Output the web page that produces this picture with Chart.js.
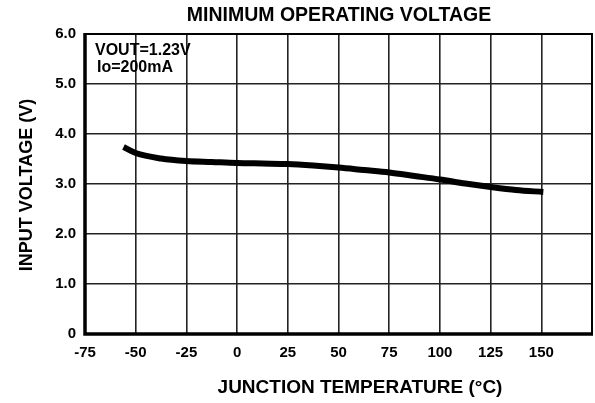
<!DOCTYPE html>
<html>
<head>
<meta charset="utf-8">
<script src="https://cdn.jsdelivr.net/npm/chart.js@4"></script>
<style>
  html, body { margin: 0; padding: 0; background: #fff; }
</style>
</head>
<body>
<canvas id="chart" width="595" height="403"></canvas>
<script>
// junction temperature (°C) and minimum input voltage (V)
const temps = [-56, -50, -37.5, -25, -12.5, 0, 12.5, 25, 37.5, 50, 62.5, 75, 87.5, 100, 112.5, 125, 137.5, 151];
const volts = [3.74, 3.62, 3.51, 3.46, 3.44, 3.42, 3.41, 3.40, 3.37, 3.33, 3.28, 3.23, 3.16, 3.09, 3.01, 2.94, 2.88, 2.84];

const xTicks = [-75, -50, -25, 0, 25, 50, 75, 100, 125, 150];
const yTickLabels = ["0", "1.0", "2.0", "3.0", "4.0", "5.0", "6.0"];

const titleText = "MINIMUM OPERATING VOLTAGE";
const xTitle = "JUNCTION TEMPERATURE (°C)";
const yTitle = "INPUT VOLTAGE (V)";
const noteLines = ["VOUT=1.23V", "Io=200mA"];

const FONT = "'Liberation Sans', Arial, sans-serif";

// titles, notes and the outer frame
const textPlugin = {
  id: "texts",
  afterDraw(chart) {
    const { ctx, chartArea: a } = chart;
    ctx.save();
    ctx.fillStyle = "#000";
    ctx.textBaseline = "middle";

    ctx.font = "bold 19.5px " + FONT;
    ctx.textAlign = "center";
    ctx.fillText(titleText, 339, 16);

    ctx.font = "bold 19px " + FONT;
    ctx.fillText(xTitle, 360, 388);

    ctx.font = "bold 18px " + FONT;
    ctx.save();
    ctx.translate(27, 185);
    ctx.rotate(-Math.PI / 2);
    ctx.fillText(yTitle, 0, 0);
    ctx.restore();

    ctx.font = "bold 16px " + FONT;
    ctx.textAlign = "left";
    ctx.fillText(noteLines[0], 95, 51);
    ctx.fillText(noteLines[1], 97, 68);

    // frame: heavier on left/bottom
    ctx.strokeStyle = "#000";
    ctx.lineWidth = 2;
    ctx.strokeRect(a.left, a.top, a.right - a.left, a.bottom - a.top);
    ctx.lineWidth = 3.5;
    ctx.beginPath();
    ctx.moveTo(a.left, a.top - 1);
    ctx.lineTo(a.left, a.bottom);
    ctx.lineTo(a.right + 1, a.bottom);
    ctx.stroke();
    ctx.restore();
  }
};

new Chart(document.getElementById("chart"), {
  type: "line",
  data: {
    datasets: [{
      data: temps.map((t, i) => ({ x: t, y: volts[i] })),
      borderColor: "#000",
      borderWidth: 6,
      pointRadius: 0,
      tension: 0.4,
      cubicInterpolationMode: "monotone",
      borderCapStyle: "butt",
      fill: false
    }]
  },
  options: {
    responsive: false,
    animation: false,
    maintainAspectRatio: false,
    layout: { padding: { top: 34, right: 3, left: 0, bottom: 0 } },
    plugins: { legend: { display: false }, tooltip: { enabled: false } },
    scales: {
      x: {
        type: "linear",
        min: -75,
        max: 175,
        afterBuildTicks(scale) {
          scale.ticks = xTicks.concat([175]).map(v => ({ value: v }));
        },
        afterFit(scale) {
          scale.height = 69;
          scale.paddingLeft = 0;
          scale.paddingRight = 0;
        },
        grid: { color: "#222", lineWidth: 1.6, drawTicks: false },
        border: { display: false },
        ticks: {
          autoSkip: false,
          padding: 10,
          color: "#000",
          font: { family: FONT, size: 15, weight: "bold" },
          maxRotation: 0,
          callback: v => (v === 175 ? "" : String(v))
        }
      },
      y: {
        min: 0,
        max: 6,
        afterBuildTicks(scale) {
          scale.ticks = yTickLabels.map((_, i) => ({ value: i }));
        },
        afterFit(scale) {
          scale.width = 85;
          scale.paddingTop = 0;
          scale.paddingBottom = 0;
        },
        grid: { color: "#222", lineWidth: 1.6, drawTicks: false },
        border: { display: false },
        ticks: {
          autoSkip: false,
          padding: 9,
          color: "#000",
          font: { family: FONT, size: 15, weight: "bold" },
          callback: v => yTickLabels[v]
        }
      }
    }
  },
  plugins: [textPlugin]
});
</script>
</body>
</html>
